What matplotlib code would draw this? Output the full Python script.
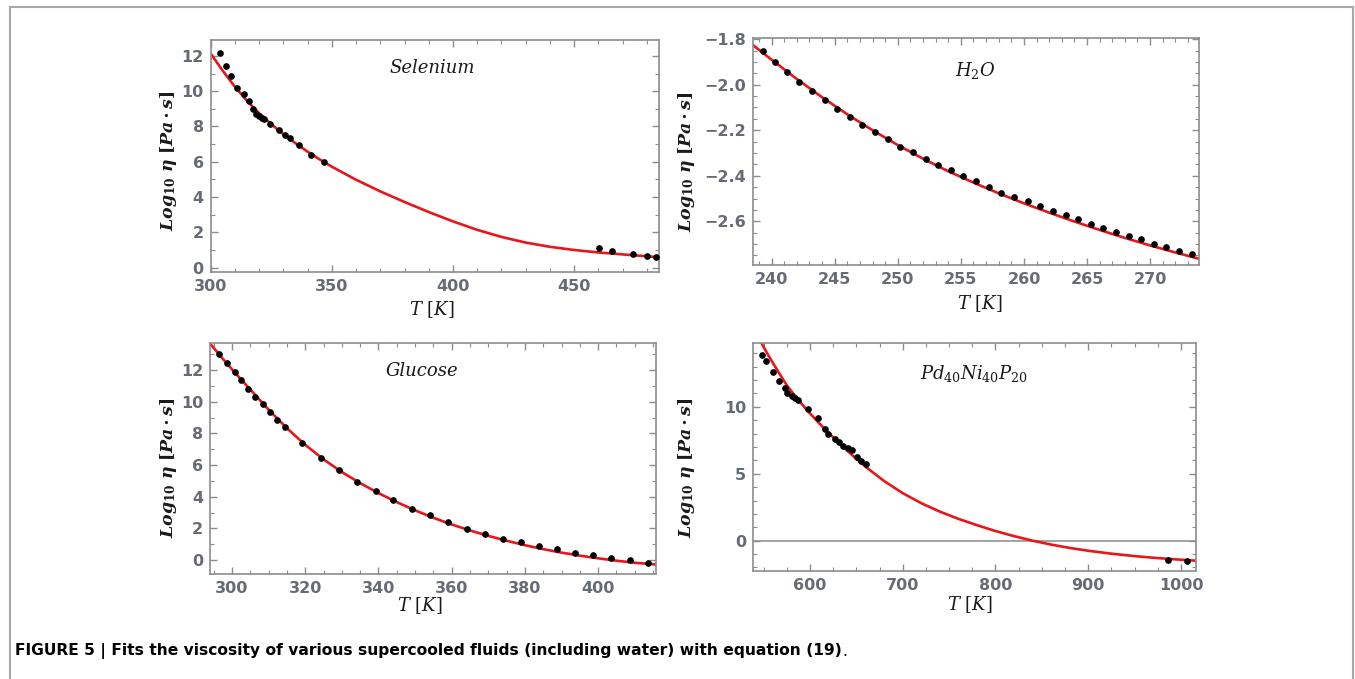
import matplotlib
matplotlib.use('Agg')
import matplotlib.pyplot as plt
from matplotlib.ticker import MultipleLocator, FuncFormatter
from matplotlib.lines import Line2D

plt.rcParams['mathtext.fontset'] = 'custom'
plt.rcParams['mathtext.rm'] = 'DejaVu Serif'
plt.rcParams['mathtext.it'] = 'DejaVu Serif:italic'
plt.rcParams['mathtext.bf'] = 'DejaVu Serif:bold'
plt.rcParams['mathtext.bfit'] = 'DejaVu Serif:italic:bold'

# ---------------- data ----------------
# Selenium
se_T = [303.8, 306.2, 308.2, 310.9, 313.6, 315.7, 317.4, 318.9, 320.0, 321.1, 321.9,
        324.5, 328.2, 330.8, 332.8, 336.6, 341.4, 346.8, 460.4, 465.4, 474.3, 480.0, 483.8]
se_logeta = [12.19, 11.45, 10.85, 10.2, 9.83, 9.43, 9.0, 8.70, 8.58, 8.5, 8.43,
             8.13, 7.79, 7.53, 7.34, 6.96, 6.40, 5.96, 1.10, 0.96, 0.79, 0.66, 0.61]
se_fit_T = [300, 305, 310, 315, 320, 325, 330, 335, 340, 345, 350, 360, 370, 380, 390,
            400, 410, 420, 430, 440, 450, 460, 470, 485]
se_fit = [12.13, 11.15, 10.25, 9.45, 8.75, 8.13, 7.57, 7.05, 6.57, 6.13, 5.72, 4.98, 4.32,
          3.72, 3.15, 2.62, 2.14, 1.74, 1.42, 1.18, 1.00, 0.86, 0.75, 0.59]

# H2O
h2o_T = [239.3, 240.3, 241.2, 242.2, 243.2, 244.2, 245.2, 246.2, 247.2, 248.2, 249.2,
         250.2, 251.2, 252.2, 253.2, 254.2, 255.2, 256.2, 257.2, 258.2, 259.2, 260.3,
         261.3, 262.3, 263.3, 264.3, 265.3, 266.3, 267.3, 268.3, 269.3, 270.3, 271.3,
         272.3, 273.3]
h2o_logeta = [-1.850, -1.898, -1.942, -1.987, -2.026, -2.067, -2.106, -2.143, -2.175,
              -2.206, -2.240, -2.272, -2.294, -2.325, -2.351, -2.376, -2.402, -2.424,
              -2.448, -2.474, -2.492, -2.511, -2.532, -2.554, -2.571, -2.591, -2.611,
              -2.629, -2.645, -2.664, -2.679, -2.701, -2.714, -2.729, -2.745]
h2o_fit_T = [238.5, 240, 242, 244, 246, 248, 250, 252, 254, 256, 258, 260, 262, 264,
             266, 268, 270, 272, 273.9]
h2o_fit = [-1.825, -1.890, -1.975, -2.055, -2.130, -2.200, -2.265, -2.325, -2.380,
           -2.430, -2.477, -2.521, -2.562, -2.601, -2.638, -2.673, -2.706, -2.737, -2.765]

# Glucose
gl_T = [296.5, 298.6, 300.7, 302.5, 304.5, 306.4, 308.4, 310.4, 312.4, 314.5, 319.2,
        324.2, 329.2, 334.2, 339.3, 344.1, 349.1, 354.1, 359.1, 364.1, 369.0, 374.0,
        378.9, 383.9, 388.9, 393.7, 398.5, 403.5, 408.6, 413.6]
gl_logeta = [12.99, 12.42, 11.85, 11.37, 10.8, 10.32, 9.83, 9.33, 8.84, 8.42, 7.41,
             6.42, 5.66, 4.95, 4.34, 3.79, 3.22, 2.82, 2.40, 1.98, 1.64, 1.35, 1.16,
             0.88, 0.67, 0.46, 0.32, 0.105, 0.0, -0.17]
gl_fit_T = [294, 297, 300, 302.5, 305, 310, 315, 320, 325, 330, 335, 340, 345, 350, 355,
            360, 365, 370, 375, 380, 385, 390, 395, 400, 405, 410, 415.8]
gl_fit = [13.68, 12.85, 12.05, 11.40, 10.77, 9.50, 8.33, 7.28, 6.36, 5.56, 4.86, 4.23,
          3.66, 3.14, 2.67, 2.25, 1.87, 1.53, 1.22, 0.94, 0.69, 0.47, 0.28, 0.11, -0.04,
          -0.17, -0.28]

# Pd40Ni40P20
pd_T = [548.6, 552.2, 560.4, 566.9, 572.7, 574.9, 580.3, 583.8, 587.4, 598.2, 608.3,
        616.2, 619.7, 627.0, 631.6, 635.9, 641.3, 645.6, 650.4, 655.3, 660.1, 986.3, 1006.1]
pd_logeta = [13.86, 13.43, 12.61, 11.94, 11.37, 11.04, 10.8, 10.67, 10.5, 9.8, 9.13,
             8.31, 7.96, 7.59, 7.34, 7.09, 6.89, 6.77, 6.27, 5.97, 5.72, -1.44, -1.49]
pd_fit_T = [547, 555, 565, 575, 585, 600, 615, 630, 645, 660, 680, 700, 720, 740, 760,
            780, 800, 820, 840, 860, 880, 900, 925, 950, 975, 1000, 1016.2]
pd_fit = [14.85, 13.85, 12.7, 11.6, 10.7, 9.5, 8.4, 7.38, 6.42, 5.52, 4.45, 3.55, 2.8,
          2.17, 1.63, 1.16, 0.72, 0.34, 0.0, -0.29, -0.54, -0.75, -0.97, -1.15, -1.30,
          -1.42, -1.49]

titles = ['Selenium', r'$H_2O$', 'Glucose', r'$Pd_{40}Ni_{40}P_{20}$']
caption = "FIGURE 5 | Fits the viscosity of various supercooled fluids (including water) with equation (19)"

# ---------------- layout ----------------
W, H = 1355, 679
fig = plt.figure(figsize=(W / 100, H / 100), dpi=100)
fig.patch.set_facecolor('white')

def box(l, t, r, b):
    return [l / W, 1 - b / H, (r - l) / W, (b - t) / H]

FRAME = '#8c8c8c'
TICKC = '#676b73'
RED = '#e8161b'

panels = [
    dict(pos=box(210.7, 40, 659, 271.7), T=se_T, y=se_logeta, fT=se_fit_T, fy=se_fit,
         xlim=(300, 485), ylim=(-0.23, 12.9), xmaj=50, xmin=10, ymaj=2, ymin=1,
         title=titles[0], tpos=(0.494, 0.878), ylab=(-0.095, 0.479), xlab=(0.493, -0.165),
         fmt=None, zero=False),
    dict(pos=box(752.7, 38.3, 1199.3, 265), T=h2o_T, y=h2o_logeta, fT=h2o_fit_T, fy=h2o_fit,
         xlim=(238.5, 273.9), ylim=(-2.792, -1.796), xmaj=5, xmin=1, ymaj=0.2, ymin=0.05,
         title=titles[1], tpos=(0.498, 0.86), ylab=(-0.148, 0.456), xlab=(0.509, -0.169),
         fmt='%.1f', zero=False),
    dict(pos=box(210, 343.3, 656, 574), T=gl_T, y=gl_logeta, fT=gl_fit_T, fy=gl_fit,
         xlim=(294, 415.8), ylim=(-0.88, 13.69), xmaj=20, xmin=5, ymaj=2, ymin=1,
         title=titles[2], tpos=(0.475, 0.88), ylab=(-0.0935, 0.458), xlab=(0.471, -0.137),
         fmt=None, zero=False),
    dict(pos=box(753.3, 342.7, 1196, 570.7), T=pd_T, y=pd_logeta, fT=pd_fit_T, fy=pd_fit,
         xlim=(538.9, 1016.2), ylim=(-2.24, 14.78), xmaj=100, xmin=25, ymaj=5, ymin=1,
         title=titles[3], tpos=(0.4985, 0.866), ylab=(-0.150, 0.449), xlab=(0.49, -0.15),
         fmt=None, zero=True),
]

ylabel = (r'$\mathbfit{Log}_{\mathbf{10}}\ \mathbfit{\eta}\ \mathbf{[}\mathbfit{Pa}'
          r'\,\mathbf{\cdot}\,\mathbfit{s}\mathbf{]}$')
xlabel = r'$T\ [K]$'

for p in panels:
    ax = fig.add_axes(p['pos'])
    if p['zero']:
        ax.axhline(0, color='#8a8a8a', lw=1.1, zorder=1)
    ax.plot(p['fT'], p['fy'], color=RED, lw=1.9, zorder=2, solid_capstyle='butt')
    ax.plot(p['T'], p['y'], 'o', color='black', ms=3.8, mec='black', zorder=3, clip_on=False)
    ax.set_xlim(*p['xlim'])
    ax.set_ylim(*p['ylim'])
    ax.xaxis.set_major_locator(MultipleLocator(p['xmaj']))
    ax.xaxis.set_minor_locator(MultipleLocator(p['xmin']))
    ax.yaxis.set_major_locator(MultipleLocator(p['ymaj']))
    ax.yaxis.set_minor_locator(MultipleLocator(p['ymin']))
    if p['fmt']:
        ax.yaxis.set_major_formatter(FuncFormatter(lambda v, pos, f=p['fmt']: (f % v).replace('-', '\u2212')))
    else:
        ax.yaxis.set_major_formatter(FuncFormatter(lambda v, pos: '%d' % round(v)))
    ax.xaxis.set_major_formatter(FuncFormatter(lambda v, pos: '%d' % round(v)))
    for s in ax.spines.values():
        s.set_color(FRAME)
        s.set_linewidth(1.2)
    ax.tick_params(which='both', direction='in', top=True, right=True, color=FRAME)
    ax.tick_params(which='major', length=5, width=1.0, pad=5)
    ax.tick_params(which='minor', length=2.6, width=0.8)
    for lab in ax.get_xticklabels() + ax.get_yticklabels():
        lab.set_fontfamily('DejaVu Sans')
        lab.set_fontweight('bold')
        lab.set_fontsize(11.5)
        lab.set_color(TICKC)
    ax.text(p['tpos'][0], p['tpos'][1], p['title'], transform=ax.transAxes,
            ha='center', va='center', fontsize=13, fontfamily='DejaVu Serif',
            fontstyle='italic', color='#1a1a1a')
    ax.set_ylabel(ylabel, fontsize=12.5, color='#1a1a1a')
    ax.yaxis.set_label_coords(*p['ylab'])
    ax.yaxis.label.set_va('center')
    ax.set_xlabel(xlabel, fontsize=13, color='#1a1a1a')
    ax.xaxis.set_label_coords(*p['xlab'])
    ax.xaxis.label.set_va('center')

# caption
CAP_Y = 651
cap = fig.text(15 / W, 1 - CAP_Y / H, caption, fontsize=11.2, fontweight='bold',
               fontfamily='DejaVu Sans', va='center', ha='left', color='black')
fig.canvas.draw()
bb = cap.get_window_extent()
fig.text(bb.x1 / W, 1 - CAP_Y / H, '.', fontsize=11.2, fontfamily='DejaVu Sans',
         va='center', ha='left', color='black')

# figure frame (gray border)
BORD = '#a8a8a8'
fig.add_artist(Line2D([9.5 / W, 9.5 / W], [0, 1 - 6.5 / H], transform=fig.transFigure, color=BORD, lw=1.5))
fig.add_artist(Line2D([9.5 / W, 1353 / W], [1 - 6.5 / H, 1 - 6.5 / H], transform=fig.transFigure, color=BORD, lw=1.5))
fig.add_artist(Line2D([1353 / W, 1353 / W], [0, 1 - 6.5 / H], transform=fig.transFigure, color=BORD, lw=1.5))

fig.savefig('out.png', dpi=100, facecolor='white')
